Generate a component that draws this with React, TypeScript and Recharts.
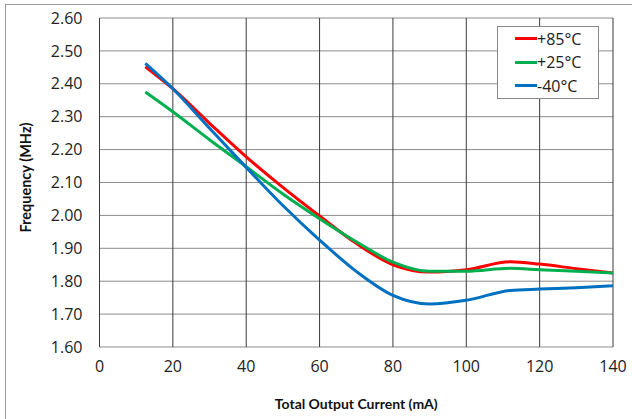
import React from "react";
import {
  LineChart,
  Line,
  XAxis,
  YAxis,
  CartesianGrid,
} from "recharts";

// current (mA) at which each curve was read
const currents = [12.5, 20, 30, 40, 50, 60, 70, 80, 90, 100, 112, 120, 130, 140];
const hot85 = [2.452, 2.385, 2.28, 2.178, 2.085, 1.998, 1.915, 1.85, 1.828, 1.835, 1.859, 1.852, 1.838, 1.825];
const room25 = [2.375, 2.315, 2.23, 2.148, 2.065, 1.99, 1.92, 1.858, 1.83, 1.83, 1.839, 1.835, 1.83, 1.825];
const cold40 = [2.462, 2.385, 2.265, 2.146, 2.03, 1.925, 1.83, 1.757, 1.731, 1.742, 1.772, 1.776, 1.78, 1.786];

const xTicks = [0, 20, 40, 60, 80, 100, 120, 140];
const yTicks = [1.6, 1.7, 1.8, 1.9, 2.0, 2.1, 2.2, 2.3, 2.4, 2.5, 2.6];

const series = [
  { key: "hot", name: "+85°C", color: "#ff0000" },
  { key: "room", name: "+25°C", color: "#00b050" },
  { key: "cold", name: "-40°C", color: "#0070c0" },
];

const data = currents.map((c, i) => ({
  current: c,
  hot: hot85[i],
  room: room25[i],
  cold: cold40[i],
}));

const font = "'Open Sans', sans-serif";
const labelFont = "Lato, 'Open Sans', sans-serif";

function LegendBox() {
  return (
    <div
      style={{
        position: "absolute",
        left: 497,
        top: 26,
        border: "1px solid #888",
        background: "#fff",
        width: 100,
        fontFamily: font,
        fontSize: 16,
        color: "#222",
      }}
    >
      {series.map((s) => (
        <div key={s.key} style={{ display: "flex", alignItems: "center", height: 23.5, paddingLeft: 17 }}>
          <span style={{ display: "inline-block", width: 22, height: 3, background: s.color }} />
          <span>{s.name}</span>
        </div>
      ))}
    </div>
  );
}

export default function App() {
  return (
    <div style={{ position: "absolute", left: 0, top: 0, width: 632, height: 419, overflow: "hidden", background: "#fff" }}>
      <div
        style={{
          position: "absolute",
          left: 5,
          top: 4,
          width: 640,
          height: 430,
          border: "1px solid #999",
        }}
      />
      <LineChart
        width={632}
        height={419}
        data={data}
        margin={{ top: 18, right: 19, bottom: 0, left: 0 }}
        style={{ position: "absolute", left: 0, top: 0 }}
      >
        <CartesianGrid vertical={false} stroke="#8c8c8c" strokeWidth={1} />
        <CartesianGrid horizontal={false} stroke="#3a3a3a" strokeWidth={1} />
        <XAxis
          dataKey="current"
          type="number"
          domain={[0, 140]}
          ticks={xTicks}
          height={72}
          axisLine={false}
          tickLine={false}
          tickSize={0}
          tickMargin={14}
          tick={{ fontSize: 16, fontFamily: font, fill: "#222" }}
          label={{
            value: "Total Output Current (mA)",
            position: "insideBottom",
            offset: 10,
            style: { fontSize: 14, fontWeight: 700, fontFamily: labelFont, fill: "#111" },
          }}
        />
        <YAxis
          type="number"
          domain={[1.6, 2.6]}
          ticks={yTicks}
          width={99.5}
          axisLine={false}
          tickLine={false}
          tickSize={0}
          tickMargin={17}
          tickFormatter={(v: number) => v.toFixed(2)}
          tick={{ fontSize: 16, fontFamily: font, fill: "#222" }}
          label={{
            value: "Frequency (MHz)",
            angle: -90,
            position: "insideLeft",
            offset: 26,
            dy: -5,
            style: { fontSize: 14.5, fontWeight: 700, fontFamily: labelFont, fill: "#111", textAnchor: "middle" },
          }}
        />
        {series.map((s) => (
          <Line
            key={s.key}
            type="monotone"
            dataKey={s.key}
            name={s.name}
            stroke={s.color}
            strokeWidth={3}
            dot={false}
            isAnimationActive={false}
          />
        ))}
      </LineChart>
      <LegendBox />
    </div>
  );
}
